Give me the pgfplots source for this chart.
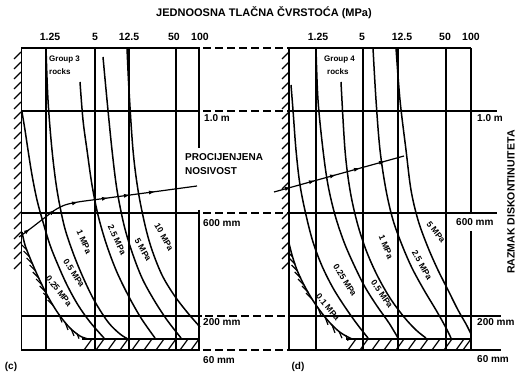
\documentclass[border=0pt]{standalone}
\usepackage{pgfplots}
\pgfplotsset{compat=1.18}
\usepackage{fontspec}
\setmainfont{Liberation Sans}
\usetikzlibrary{arrows.meta}
\tikzset{
  mytxt/.style={font=\fontsize{#1}{#1}\selectfont\bfseries, inner sep=0pt},
}
\begin{document}
\begin{tikzpicture}
\begin{axis}[
  width=528pt, height=374pt, scale only axis,
  xmin=0, xmax=528, ymin=0, ymax=374, y dir=reverse,
  hide axis, clip=false,
  gl/.style={black, line width=1.7pt},
  wl/.style={black, line width=1.9pt},
  crv/.style={black, line width=1.5pt, smooth, tension=0.55},
  dsh/.style={black, line width=1.5pt, dash pattern=on 8pt off 4pt},
  hat/.style={black, line width=1.2pt, quiver={u=\thisrow{u}, v=\thisrow{v}}},
  arr/.style={black, line width=0.8pt, quiver={u=\thisrow{u}, v=\thisrow{v}}, -{Latex[length=6pt,width=4pt]}},
]
\addplot[draw=none] coordinates {(0,0) (528,374)};

% ---------------- panel (c) grid ----------------
\addplot[wl] coordinates {(21.5,48) (21.5,350)};
\addplot[gl] coordinates {(46,48) (46,350)};
\addplot[gl] coordinates {(95,48) (95,350)};
\addplot[gl] coordinates {(129,48) (129,350)};
\addplot[gl] coordinates {(176,48) (176,350)};
\addplot[gl] coordinates {(199,48) (199,148)};
\addplot[gl] coordinates {(199,210) (199,350)};
\addplot[gl] coordinates {(21,48) (200,48)};
\addplot[gl] coordinates {(21,111) (200,111)};
\addplot[gl] coordinates {(21,213) (200,213)};
\addplot[gl] coordinates {(21,316) (202,316)};
\addplot[gl] coordinates {(21,350) (200,350)};
% dashed connectors
\addplot[dsh] coordinates {(203,48) (289,48)};
\addplot[dsh] coordinates {(203,111) (289,111)};
\addplot[dsh] coordinates {(203,213) (289,213)};
\addplot[dsh] coordinates {(205,316) (289,316)};
\addplot[dsh] coordinates {(203,350) (289,350)};

% ---------------- panel (d) grid ----------------
\addplot[wl] coordinates {(289,48) (289,350)};
\addplot[gl] coordinates {(316,48) (316,350)};
\addplot[gl] coordinates {(363,48) (363,350)};
\addplot[gl] coordinates {(398,48) (398,350)};
\addplot[gl] coordinates {(446,48) (446,350)};
\addplot[gl] coordinates {(471,48) (471,213)};
\addplot[gl] coordinates {(471,231) (471,350)};
\addplot[gl] coordinates {(289,48) (471,48)};
\addplot[gl] coordinates {(289,111) (497,111)};
\addplot[gl] coordinates {(289,213) (497,213)};
\addplot[gl] coordinates {(289,316) (501,316)};
\addplot[gl] coordinates {(289,350) (501,350)};

% ---------------- curves (c) ----------------
\addplot[crv] coordinates {(22,232) (25,245) (30,258) (36,272) (43,287) (51,302) (60,316) (70,328) (80,336) (88,339)};
\addplot[crv] coordinates {(22,112) (25,130) (28,150) (32,175) (37,200) (43,222) (50,245) (58,265) (67,285) (78,305) (90,322) (104,338)};
\addplot[crv] coordinates {(46,48) (48,100) (52,150) (57,190) (64,225) (72,250) (82,275) (94,300) (108,322) (120,334) (128,339)};
\addplot[crv] coordinates {(80,82) (83,120) (87,150) (92,185) (98,215) (106,243) (116,270) (128,295) (141,318) (155,338)};
\addplot[crv] coordinates {(103,57) (107,100) (112,150) (117,190) (124,225) (132,252) (142,278) (154,300) (167,320) (181,338)};
\addplot[crv] coordinates {(127,48) (129,90) (133,150) (138,190) (145,225) (152,250) (162,275) (174,295) (187,312) (200,327)};

% ---------------- curves (d) ----------------
\addplot[crv] coordinates {(289,243) (292,255) (297,270) (304,285) (312,299) (321,312) (331,324) (341,333) (352,339)};
\addplot[crv] coordinates {(291,85) (293,110) (296,150) (300,185) (306,215) (313,242) (322,266) (333,288) (345,307) (357,324) (368,338)};
\addplot[crv] coordinates {(316,48) (318,100) (323,150) (328,185) (335,215) (344,242) (354,265) (365,287) (377,306) (389,323) (398,338)};
\addplot[crv] coordinates {(341,82) (345,150) (350,190) (357,222) (366,250) (377,275) (390,298) (404,317) (416,330) (426,338)};
\addplot[crv] coordinates {(373,48) (376,100) (380,150) (386,190) (393,220) (402,245) (412,268) (424,290) (436,310) (445,326) (451,338)};
\addplot[crv] coordinates {(396,48) (400,100) (406,150) (411,190) (418,220) (427,245) (437,268) (448,290) (458,310) (466,324) (471,334)};

% ---------------- estimated capacity lines ----------------
\addplot[black, line width=1.2pt, smooth, tension=0.5] coordinates {(19,237) (30,229) (43,219) (55,210) (65,205) (78,202) (100,199) (130,195) (160,191) (197,186)};
\addplot[arr] table {
x y u v
25.1 232.5 4.9 -3.5
50.2 213.6 4.8 -3.6
72.2 203.4 5.8 -1.4
102 198.8 5.95 -0.8
124 195.8 5.95 -0.8
149 192.5 5.95 -0.8
};
\addplot[black, line width=1.2pt] coordinates {(274,192) (404,156)};
\addplot[arr] table {
x y u v
285.2 188.9 5.78 -1.6
309.2 182.25 5.78 -1.6
330.2 176.43 5.78 -1.6
354.2 169.78 5.78 -1.6
379.2 162.86 5.78 -1.6
};

% ---------------- hatching ----------------
% walls
\addplot[hat] table {
x y u v
14 59 7 -7
14 69 7 -7
14 79 7 -7
14 89 7 -7
14 99 7 -7
14 109 7 -7
14 119 7 -7
14 129 7 -7
14 139 7 -7
14 149 7 -7
14 159 7 -7
14 169 7 -7
14 179 7 -7
14 189 7 -7
14 199 7 -7
14 209 7 -7
14 219 7 -7
14 229 7 -7
14 239 7 -7
14 249 7 -7
14 259 7 -7
14 269 7 -7
};
\addplot[hat] table {
x y u v
282 59 7 -7
282 69 7 -7
282 79 7 -7
282 89 7 -7
282 99 7 -7
282 109 7 -7
282 119 7 -7
282 129 7 -7
282 139 7 -7
282 149 7 -7
282 159 7 -7
282 169 7 -7
282 179 7 -7
282 189 7 -7
282 199 7 -7
282 209 7 -7
282 219 7 -7
282 229 7 -7
282 239 7 -7
282 249 7 -7
282 259 7 -7
282 269 7 -7
};
% along lowest curves
\addplot[hat] table {
x y u v
26.9 250 -5 -5
29.6 257 -6 -6
32.6 264 -6 -6
35.6 271 -6 -6
38.8 278 -6 -6
42.1 285 -6 -6
45.7 292 -6 -6
49.4 299 -6 -6
53.6 306 -6 -6
59 314.4 3 8
65 322 3 8
71 328.8 3 7
77 333.6 2 5
};
\addplot[hat] table {
x y u v
292.7 257 -3 -3
295 264 -6 -6
297.5 271 -6 -6
300.7 278 -6 -6
304 285 -6 -6
308 292 -6 -6
312 299 -6 -6
318 307.7 3 8
325 316.8 3 8
332 324.9 3 8
339 331.2 3 7
346 335.7 2 5
};
% bottom strips
\addplot[black, line width=1.1pt] coordinates {(82,339) (200,339)};
\addplot[hat] table {
x y u v
84 350 8 -11
96 350 8 -11
108 350 8 -11
120 350 8 -11
132 350 8 -11
144 350 8 -11
156 350 8 -11
168 350 8 -11
180 350 8 -11
191 350 8 -11
};
\addplot[black, line width=1.1pt] coordinates {(346,339) (471,339)};
\addplot[hat] table {
x y u v
348 350 8 -11
360 350 8 -11
372 350 8 -11
384 350 8 -11
396 350 8 -11
408 350 8 -11
420 350 8 -11
432 350 8 -11
444 350 8 -11
456 350 8 -11
463 350 8 -11
};

% ---------------- texts ----------------
\node[mytxt=11] at (264,13) {JEDNOOSNA TLAČNA ČVRSTOĆA (MPa)};
\node[mytxt=10.5, rotate=90] at (511,202) {RAZMAK DISKONTINUITETA};

\node[mytxt=10.5] at (50,37) {1.25};
\node[mytxt=10.5] at (95,37) {5};
\node[mytxt=10.5] at (129,37) {12.5};
\node[mytxt=10.5] at (174,37) {50};
\node[mytxt=10.5] at (200,37) {100};
\node[mytxt=10.5] at (318,37) {1.25};
\node[mytxt=10.5] at (362,37) {5};
\node[mytxt=10.5] at (402,37) {12.5};
\node[mytxt=10.5] at (445,37) {50};
\node[mytxt=10.5] at (471,37) {100};

\node[mytxt=10, anchor=west] at (204,118) {1.0 m};
\node[mytxt=10, anchor=west] at (203,223) {600 mm};
\node[mytxt=10, anchor=west] at (203,322) {200 mm};
\node[mytxt=10, anchor=west] at (203,360) {60 mm};
\node[mytxt=10, anchor=west] at (477,118) {1.0 m};
\node[mytxt=10, anchor=west] at (456,222) {600 mm};
\node[mytxt=10, anchor=west] at (477,322) {200 mm};
\node[mytxt=10, anchor=west] at (477,359) {60 mm};

\node[mytxt=10, anchor=west] at (185,157) {PROCIJENJENA};
\node[mytxt=10, anchor=west] at (185,171) {NOSIVOST};

\node[mytxt=10] at (11,367) {(c)};
\node[mytxt=10] at (298,367) {(d)};

\node[mytxt=8, anchor=west] at (49,60) {Group 3};
\node[mytxt=8, anchor=west] at (49,72) {rocks};
\node[mytxt=8, anchor=west] at (324,60) {Group 4};
\node[mytxt=8, anchor=west] at (327,72) {rocks};

% curve labels (c)
\node[mytxt=8.5, rotate=-52] at (59,291) {0.25 MPa};
\node[mytxt=8.5, rotate=-57] at (74,273) {0.5 MPa};
\node[mytxt=8.5, rotate=-66] at (84,242) {1 MPa};
\node[mytxt=8.5, rotate=-65] at (117,240) {2.5 MPa};
\node[mytxt=8.5, rotate=-60] at (143,250) {5 MPa};
\node[mytxt=8.5, rotate=-60] at (164,237) {10 MPa};
% curve labels (d)
\node[mytxt=8.5, rotate=-50] at (328,307) {0.1 MPa};
\node[mytxt=8.5, rotate=-58] at (345,280) {0.25 MPa};
\node[mytxt=8.5, rotate=-55] at (382,294) {0.5 MPa};
\node[mytxt=8.5, rotate=-68] at (386,247) {1 MPa};
\node[mytxt=8.5, rotate=-60] at (422,265) {2.5 MPa};
\node[mytxt=8.5, rotate=-52] at (436,232) {5 MPa};
\end{axis}
\end{tikzpicture}
\end{document}
